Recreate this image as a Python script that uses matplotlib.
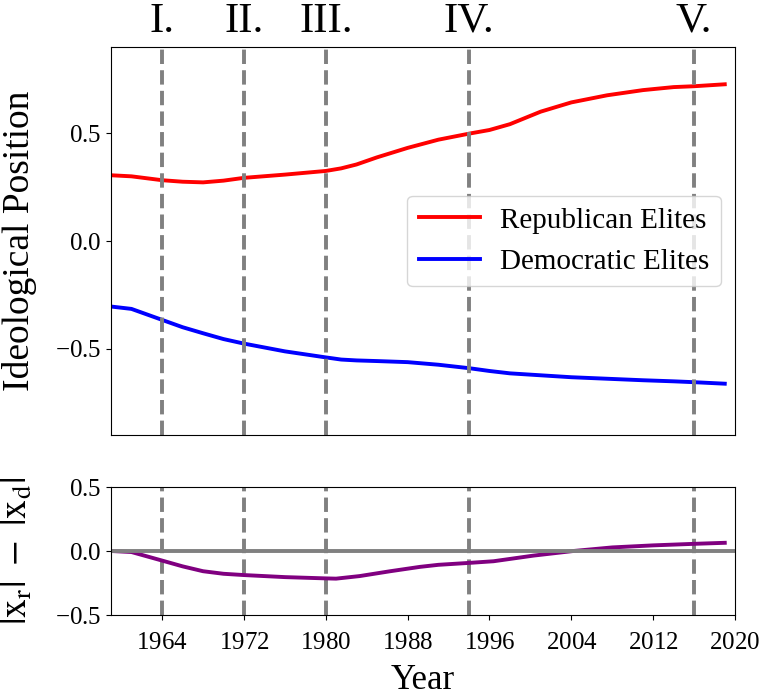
import matplotlib
matplotlib.use("Agg")
import matplotlib.pyplot as plt
import numpy as np

plt.rcParams['font.family'] = ['Liberation Serif', 'DejaVu Serif']
plt.rcParams['mathtext.fontset'] = 'stix'
plt.rcParams['axes.formatter.use_mathtext'] = True

# values
years = [1959, 1961, 1964, 1966, 1968, 1970, 1972, 1976, 1980, 1981.5, 1983, 1985,
         1988, 1991, 1994, 1996, 1998, 2001, 2004, 2007.5, 2011, 2014, 2016, 2019]
rep = [0.305, 0.300, 0.282, 0.275, 0.272, 0.280, 0.293, 0.308, 0.325, 0.337, 0.355, 0.388,
       0.432, 0.470, 0.498, 0.515, 0.542, 0.600, 0.643, 0.676, 0.700, 0.714, 0.718, 0.727]
dem = [-0.304, -0.315, -0.366, -0.400, -0.428, -0.455, -0.476, -0.512, -0.540, -0.550,
       -0.554, -0.557, -0.562, -0.574, -0.590, -0.603, -0.614, -0.623, -0.632, -0.639,
       -0.646, -0.651, -0.655, -0.662]

gap_years = [1959, 1961, 1964, 1966, 1968, 1970, 1972, 1976, 1980, 1981, 1983.3, 1986.3,
             1989.2, 1991, 1994, 1996.4, 2000.3, 2004.2, 2008, 2012, 2016, 2019]
gap = [0.0, -0.008, -0.075, -0.12, -0.158, -0.178, -0.188, -0.204, -0.214, -0.216, -0.196,
       -0.158, -0.124, -0.108, -0.093, -0.08, -0.036, 0.0, 0.028, 0.044, 0.056, 0.064]

events = [1964, 1972, 1980, 1994, 2016]
event_labels = ['I.', 'II.', 'III.', 'IV.', 'V.']
xticks = [1964, 1972, 1980, 1988, 1996, 2004, 2012, 2020]

W, H = 762, 698
fig = plt.figure(figsize=(W / 100, H / 100), dpi=100)
ax = fig.add_axes([111 / W, 1 - 435 / H, (735 - 111) / W, (435 - 47) / H])
ax2 = fig.add_axes([111 / W, 1 - 615 / H, (735 - 111) / W, (615 - 487) / H], sharex=ax)

ax.plot(years, rep, color='red', lw=2.8, label='Republican Elites')
ax.plot(years, dem, color='blue', lw=2.8, label='Democratic Elites')
for e, lab in zip(events, event_labels):
    ax.axvline(e, color='gray', ls='--', lw=2.8)
    ax2.axvline(e, color='gray', ls='--', lw=2.8)
    ax.text(e, 1.039, lab, transform=ax.get_xaxis_transform(), ha='center', va='baseline',
            fontsize=31)

ax.set_xlim(1959, 2020)
ax.set_ylim(-0.9, 0.9)
ax.set_yticks([-0.5, 0.0, 0.5])
ax.tick_params(axis='y', labelsize=18)
ax.tick_params(axis='x', bottom=False, labelbottom=False)
ax.set_ylabel('Ideological Position', fontsize=27)
ax.yaxis.set_label_coords(-0.118, 0.5)
ax.legend(loc='center right', bbox_to_anchor=(0.978, 0.5), borderaxespad=0,
          fontsize=21, handlelength=2.1, handletextpad=0.7)

ax2.plot(gap_years, gap, color='purple', lw=2.8)
ax2.axhline(0, color='gray', lw=2.8)
ax2.set_ylim(-0.5, 0.5)
ax2.set_yticks([-0.5, 0.0, 0.5])
ax2.set_xticks(xticks)
ax2.tick_params(labelsize=18)
ax2.tick_params(axis='x', pad=9)
ax2.set_ylabel(r'$|\mathrm{x_r}|\ -\ |\mathrm{x_d}|$', fontsize=27)
ax2.yaxis.set_label_coords(-0.122, 0.5)
ax2.set_xlabel('Year', fontsize=25, labelpad=7)

fig.savefig('out.png', dpi=100)
